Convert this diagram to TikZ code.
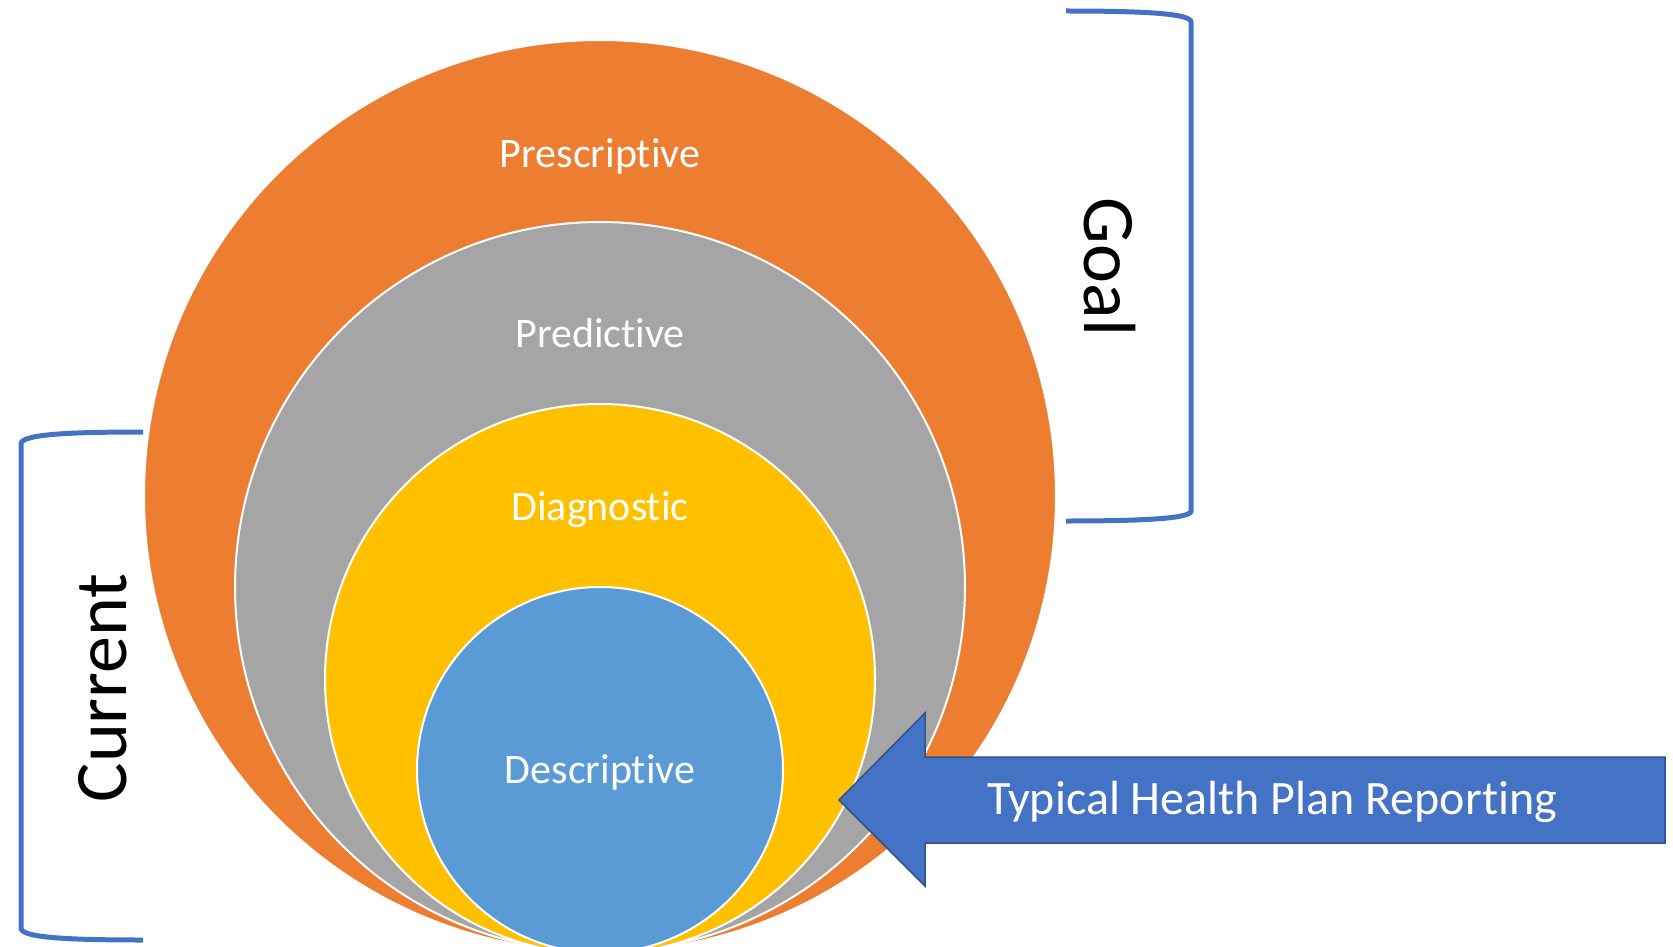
\documentclass[tikz,border=0pt]{standalone}
\usepackage{fontspec}
\setmainfont{Carlito}[Ligatures={NoCommon}]
\definecolor{orangeA}{HTML}{ED7D31}
\definecolor{grayA}{HTML}{A5A5A5}
\definecolor{goldA}{HTML}{FFC000}
\definecolor{blueA}{HTML}{5B9BD5}
\definecolor{blueB}{HTML}{4472C4}
\definecolor{blueEdge}{HTML}{2F528F}
\begin{document}
\begin{tikzpicture}[x=1pt,y=-1pt,
  ring/.style={circle, draw=white, line width=2pt, inner sep=0pt},
  ringlabel/.style={text=white, font=\fontsize{42}{50}\selectfont},
  bracketline/.style={draw=blueB, line width=5pt},
  sidelabel/.style={font=\fontsize{74}{86}\selectfont, inner sep=0pt}]
\useasboundingbox (0,0) rectangle (1673,947);

% nested circles, all touching at the bottom
\begin{scope}
  \clip (0,0) rectangle (1673,947);
  \node[ring, fill=orangeA, minimum size=912pt] (presc) at (600,496) {};
  \node[ring, fill=grayA,   minimum size=730pt] (pred)  at (600,587) {};
  \node[ring, fill=goldA,   minimum size=550pt] (diag)  at (600,679) {};
  \node[ring, fill=blueA,   minimum size=366pt] (desc)  at (600,770) {};
\end{scope}

\node[ringlabel] (tpresc) at (600,156) {Prescriptive};
\node[ringlabel] (tpred)  at (600,333) {Predictive};
\node[ringlabel] (tdiag)  at (600,510) {Diagnostic};
\node[ringlabel] (tdesc)  at (600,772) {Descriptive};

% left bracket: Current
\draw[bracketline] (143,432) .. controls (60,432) and (21,435) .. (21,444)
  -- (21,928) .. controls (21,937) and (60,940) .. (143,940);
\node[sidelabel, rotate=90] (current) at (103,688) {Current};

% right bracket: Goal
\draw[bracketline] (1066,11) .. controls (1150,11) and (1191,14) .. (1191,22)
  -- (1191,511) .. controls (1191,518) and (1150,521) .. (1066,521);
\node[sidelabel, rotate=-90] (goal) at (1110,267) {Goal};

% block arrow pointing at the inner circles
\draw[fill=blueB, draw=blueEdge, line width=1.5pt, line join=miter]
  (1665,757) -- (925,757) -- (925,713) -- (839,800) -- (925,886)
  -- (925,843) -- (1665,843) -- cycle;
\node[text=white, font=\fontsize{48}{56}\selectfont] (report) at (1272,802)
  {Typical Health Plan Reporting};
\end{tikzpicture}
\end{document}
